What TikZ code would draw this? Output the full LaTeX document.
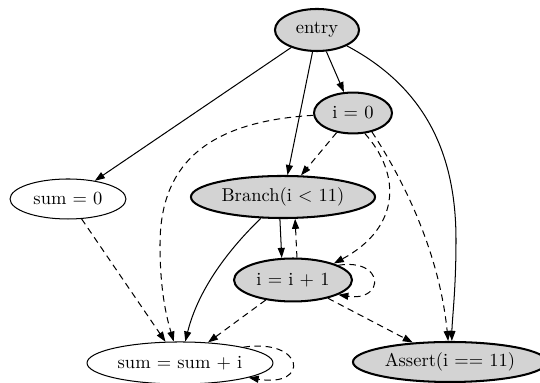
\documentclass[tikz,border=0pt]{standalone}
\usepackage{tikz}
\usetikzlibrary{arrows.meta,shapes.geometric}
\definecolor{nodegray}{RGB}{211,211,211}

\begin{document}
\begin{tikzpicture}[x=0.54pt,y=-0.54pt,
  op/.style={ellipse,draw,line width=1.1pt,fill=nodegray,inner sep=0pt},
  val/.style={ellipse,draw,line width=0.55pt,fill=white,inner sep=0pt},
  flow/.style={-{Triangle[length=5.4pt,width=3.8pt]},line width=0.55pt},
  dep/.style={flow,dash pattern=on 3.5pt off 2.5pt}]
\useasboundingbox (0,0) rectangle (540,383);
\clip (0,0) rectangle (540,383);

% Nodes
\node[op,minimum width=45.4pt,minimum height=22.7pt] (entry) at (317,30) {entry};
\node[op,minimum width=42.1pt,minimum height=22.1pt] (izero) at (353,113) {i = 0};
\node[op,minimum width=99.4pt,minimum height=22.7pt] (branch) at (283,197) {Branch(i < 11)};
\node[val,minimum width=62.6pt,minimum height=21.6pt] (sumzero) at (68,199) {sum = 0};
\node[op,minimum width=63.7pt,minimum height=23.2pt] (incr) at (293,280) {i = i + 1};
\node[val,minimum width=100.4pt,minimum height=22.7pt] (sumadd) at (180,363) {sum = sum + i};
\node[op,minimum width=104.8pt,minimum height=21.6pt] (assert) at (450,362) {Assert(i == 11)};

% Control flow
\draw[flow] (entry) -- (sumzero);
\draw[flow] (entry) -- (branch);
\draw[flow] (entry) -- (izero);
\draw[flow] (entry) .. controls (430,90) and (456,160) .. (456,240)
  .. controls (456,290) and (452,320) .. (assert.85);
\draw[flow] (branch.-98) -- (incr.117);
\draw[flow] (branch) .. controls (228,250) and (198,290) .. (sumadd);

% Data flow
\draw[dep] (izero) .. controls (200,122) and (160,170) .. (160,245)
  .. controls (160,295) and (168,322) .. (sumadd);
\draw[dep] (izero) -- (branch);
\draw[dep] (izero.-60) .. controls (402,175) and (400,228) .. (incr.22);
\draw[dep] (izero.-45) .. controls (410,190) and (440,260) .. (assert.95);
\draw[dep] (sumzero) -- (sumadd);
\draw[dep] (incr.80) -- (branch.-61);
\draw[dep] (incr.18) .. controls (385,258) and (385,302) .. (incr.-18);
\draw[dep] (incr) -- (sumadd);
\draw[dep] (incr) -- (assert);
\draw[dep] (sumadd.14) .. controls (305,338) and (310,388) .. (sumadd.-12);
\end{tikzpicture}
\end{document}
